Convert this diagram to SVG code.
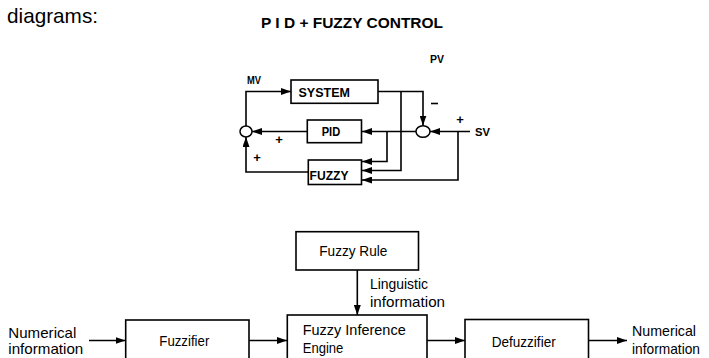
<svg xmlns="http://www.w3.org/2000/svg" width="709" height="358" viewBox="0 0 709 358">
<defs>
<marker id="ah" viewBox="0 0 10 7" refX="10" refY="3.5" markerWidth="10" markerHeight="7" markerUnits="userSpaceOnUse" orient="auto">
<path d="M0,0 L10,3.5 L0,7 z" fill="#000"/>
</marker>
<style>
.box{fill:#fff;stroke:#000;stroke-width:1.6}
.ln{fill:none;stroke:#000;stroke-width:1.6;marker-end:url(#ah)}
.b{font-family:"Liberation Sans",Arial,sans-serif;font-weight:bold;fill:#000}
.t{font-family:"Liberation Sans",Arial,sans-serif;font-size:15px;fill:#000}
</style>
</defs>
<rect width="709" height="358" fill="#fff"/>
<text x="7" y="23" font-family="Liberation Sans, Arial, sans-serif" font-size="21" textLength="91" lengthAdjust="spacingAndGlyphs">diagrams:</text>
<text class="b" x="261" y="28" font-size="15" textLength="182" lengthAdjust="spacingAndGlyphs">P I D + FUZZY CONTROL</text>

<g id="connectors">
<polyline class="ln" points="246,126 246,91.5 291,91.5"/>
<polyline class="ln" points="378,91.5 423,91.5 423,125.5"/>
<polyline class="ln" points="401,91.5 401,170.5 362,170.5"/>
<line class="ln" x1="470" y1="131.5" x2="430" y2="131.5"/>
<polyline class="ln" points="458,131.5 458,180 362,180"/>
<line class="ln" x1="416" y1="131.5" x2="362" y2="131.5"/>
<polyline class="ln" points="387,131.5 387,161.5 362,161.5"/>
<line class="ln" x1="307" y1="131.5" x2="252" y2="131.5"/>
<polyline class="ln" points="308,172 246,172 246,137"/>
<line class="ln" x1="89" y1="340.5" x2="125.5" y2="340.5"/>
<line class="ln" x1="249" y1="340.5" x2="287" y2="340.5"/>
<line class="ln" x1="427" y1="340.5" x2="465" y2="340.5"/>
<line class="ln" x1="588.5" y1="340.5" x2="627" y2="340.5"/>
<line class="ln" x1="357.3" y1="270" x2="357.3" y2="315"/>
</g>

<g id="labels-top">
<text class="b" x="247" y="84" font-size="11" textLength="14" lengthAdjust="spacingAndGlyphs">MV</text>
<text class="b" x="430" y="63" font-size="11" textLength="14" lengthAdjust="spacingAndGlyphs">PV</text>
<text class="b" x="475" y="135.5" font-size="11" textLength="15" lengthAdjust="spacingAndGlyphs">SV</text>
<text class="b" x="279" y="144" font-size="13" text-anchor="middle">+</text>
<text class="b" x="257" y="162" font-size="13" text-anchor="middle">+</text>
<text class="b" x="460" y="123.5" font-size="13" text-anchor="middle">+</text>
<line x1="431" y1="103.5" x2="438" y2="103.5" stroke="#000" stroke-width="1.6"/>
</g>

<g id="sum-left"><ellipse cx="246" cy="131.5" rx="6" ry="5.5" fill="#fff" stroke="#000" stroke-width="1.5"/></g>
<g id="sum-right"><ellipse cx="423" cy="131.5" rx="7" ry="5.8" fill="#fff" stroke="#000" stroke-width="1.5"/></g>

<g id="system">
<rect class="box" x="291" y="80" width="87" height="23.3"/>
<text class="b" x="298.5" y="97" font-size="13" textLength="51.5" lengthAdjust="spacingAndGlyphs">SYSTEM</text>
</g>
<g id="pid">
<rect class="box" x="307.3" y="120" width="54.2" height="22.7"/>
<text class="b" x="321.7" y="136" font-size="13" textLength="18.5" lengthAdjust="spacingAndGlyphs">PID</text>
</g>
<g id="fuzzy">
<rect class="box" x="308.3" y="160" width="53.2" height="24.5"/>
<text class="b" x="309.5" y="180" font-size="13" textLength="39" lengthAdjust="spacingAndGlyphs">FUZZY</text>
</g>

<g id="fuzzy-rule">
<rect class="box" x="296" y="231.7" width="122.5" height="38.3"/>
<text class="t" x="319.3" y="255.7" textLength="68" lengthAdjust="spacingAndGlyphs">Fuzzy Rule</text>
</g>
<g id="ling-label">
<text class="t" x="370" y="289" textLength="58" lengthAdjust="spacingAndGlyphs">Linguistic</text>
<text class="t" x="370" y="306.5" textLength="75" lengthAdjust="spacingAndGlyphs">information</text>
</g>
<g id="input-label">
<text class="t" x="8.3" y="337.7" textLength="68" lengthAdjust="spacingAndGlyphs">Numerical</text>
<text class="t" x="8.3" y="353.5" textLength="75" lengthAdjust="spacingAndGlyphs">information</text>
</g>
<g id="fuzzifier">
<rect class="box" x="125.7" y="320" width="123.3" height="50"/>
<text class="t" x="159.3" y="345.5" textLength="50" lengthAdjust="spacingAndGlyphs">Fuzzifier</text>
</g>
<g id="inference-engine">
<rect class="box" x="287.3" y="315" width="139.7" height="55"/>
<text class="t" x="302.7" y="335" textLength="103" lengthAdjust="spacingAndGlyphs">Fuzzy Inference</text>
<text class="t" x="302.7" y="352.7" textLength="40.7" lengthAdjust="spacingAndGlyphs">Engine</text>
</g>
<g id="defuzzifier">
<rect class="box" x="465" y="319.5" width="123.5" height="50"/>
<text class="t" x="491.7" y="346.5" textLength="64" lengthAdjust="spacingAndGlyphs">Defuzzifier</text>
</g>
<g id="output-label">
<text class="t" x="632" y="336" textLength="64" lengthAdjust="spacingAndGlyphs">Numerical</text>
<text class="t" x="632" y="353.5" textLength="68" lengthAdjust="spacingAndGlyphs">information</text>
</g>
</svg>
